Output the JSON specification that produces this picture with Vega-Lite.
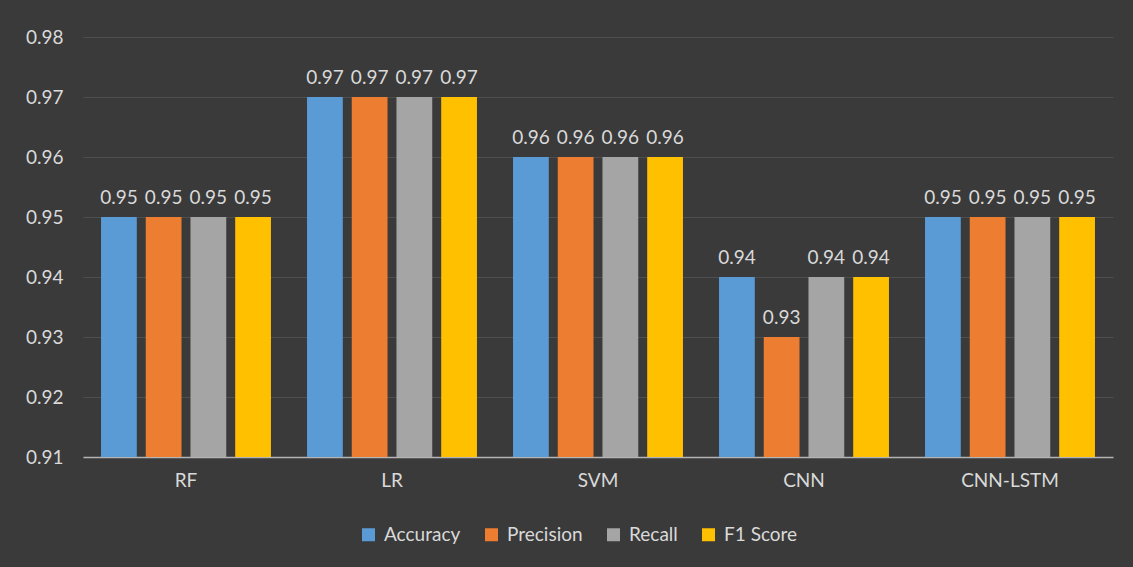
{
  "$schema": "https://vega.github.io/schema/vega-lite/v6.json",
  "width": 1030,
  "height": 420,
  "autosize": {"type": "none"},
  "padding": {"left": 83, "top": 37, "right": 20, "bottom": 110},
  "background": "#3a3a3a",
  "config": {
    "font": "Lato",
    "view": {"stroke": null},
    "axis": {"labelFont": "Lato", "labelColor": "#d9d9d9", "labelFontSize": 19, "titleColor": "#d9d9d9"},
    "legend": {"labelFont": "Lato", "labelColor": "#d9d9d9", "labelFontSize": 19}
  },
  "data": {
    "values": [
      {"model": "RF", "metric": "Accuracy", "value": 0.95},
      {"model": "RF", "metric": "Precision", "value": 0.95},
      {"model": "RF", "metric": "Recall", "value": 0.95},
      {"model": "RF", "metric": "F1 Score", "value": 0.95},
      {"model": "LR", "metric": "Accuracy", "value": 0.97},
      {"model": "LR", "metric": "Precision", "value": 0.97},
      {"model": "LR", "metric": "Recall", "value": 0.97},
      {"model": "LR", "metric": "F1 Score", "value": 0.97},
      {"model": "SVM", "metric": "Accuracy", "value": 0.96},
      {"model": "SVM", "metric": "Precision", "value": 0.96},
      {"model": "SVM", "metric": "Recall", "value": 0.96},
      {"model": "SVM", "metric": "F1 Score", "value": 0.96},
      {"model": "CNN", "metric": "Accuracy", "value": 0.94},
      {"model": "CNN", "metric": "Precision", "value": 0.93},
      {"model": "CNN", "metric": "Recall", "value": 0.94},
      {"model": "CNN", "metric": "F1 Score", "value": 0.94},
      {"model": "CNN-LSTM", "metric": "Accuracy", "value": 0.95},
      {"model": "CNN-LSTM", "metric": "Precision", "value": 0.95},
      {"model": "CNN-LSTM", "metric": "Recall", "value": 0.95},
      {"model": "CNN-LSTM", "metric": "F1 Score", "value": 0.95}
    ]
  },
  "encoding": {
    "x": {
      "field": "model", "type": "nominal", "sort": null,
      "scale": {"paddingInner": 0.175, "paddingOuter": 0.0875},
      "axis": {"title": null, "labelAngle": 0, "domainColor": "#b4b4b4", "domainWidth": 1.5, "ticks": false, "labelPadding": 14, "grid": false}
    },
    "xOffset": {
      "field": "metric", "type": "nominal", "sort": ["Accuracy", "Precision", "Recall", "F1 Score"],
      "scale": {"paddingInner": 0.2, "paddingOuter": 0}
    },
    "y": {
      "field": "value", "type": "quantitative",
      "scale": {"domain": [0.91, 0.98], "zero": false, "nice": false},
      "axis": {"title": null, "values": [0.91, 0.92, 0.93, 0.94, 0.95, 0.96, 0.97, 0.98], "format": ".2f", "labelOverlap": false, "labelBound": false, "domain": false, "ticks": false, "labelPadding": 20, "gridColor": "#4e4e4e", "gridWidth": 1.2}
    }
  },
  "layer": [
    {
      "mark": {"type": "bar", "clip": true},
      "encoding": {
        "color": {
          "field": "metric", "type": "nominal",
          "sort": ["Accuracy", "Precision", "Recall", "F1 Score"],
          "scale": {"domain": ["Accuracy", "Precision", "Recall", "F1 Score"], "range": ["#5b9bd5", "#ed7d31", "#a5a5a5", "#ffc000"]},
          "legend": {"title": null, "orient": "none", "legendX": 276, "legendY": 488, "direction": "horizontal", "symbolType": "square", "symbolSize": 169, "symbolStrokeWidth": 0, "symbolOpacity": 1, "columnPadding": 21, "labelOffset": 6}
        }
      }
    },
    {
      "mark": {"type": "text", "baseline": "bottom", "dy": -9, "fontSize": 19, "color": "#d9d9d9", "font": "Lato"},
      "encoding": {
        "text": {"field": "value", "type": "quantitative", "format": ".2f"}
      }
    }
  ]
}
